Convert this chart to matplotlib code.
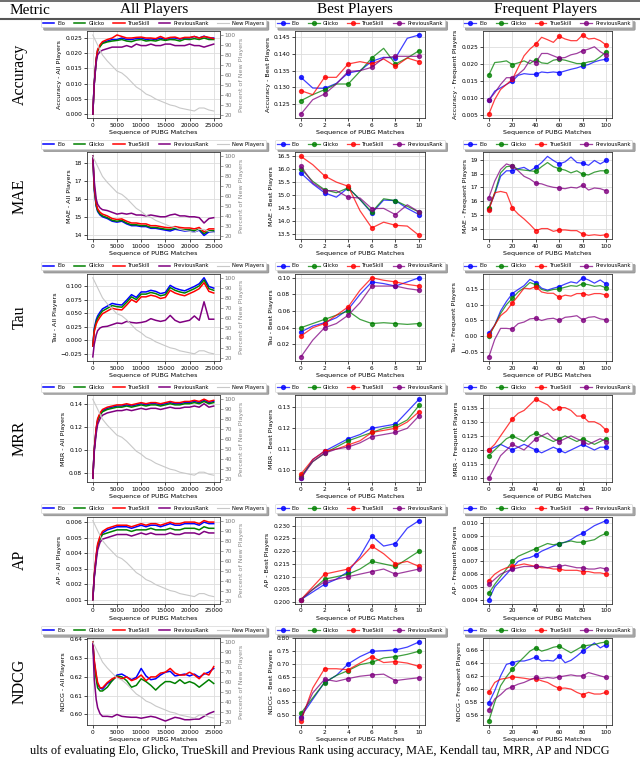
import numpy as np
import matplotlib.pyplot as plt
from matplotlib.lines import Line2D

plt.rcParams['font.family'] = ['DejaVu Sans']

# x positions
all_x = [0, 300, 700, 1000, 1500, 2000, 3000, 4000, 5000, 6000, 7000, 8000, 9000, 10000, 11000,
         12000, 13000, 14000, 15000, 16000, 17000, 18000, 19000, 20000, 21000, 22000, 23000, 24000, 25000]
best_x = [0, 1, 2, 3, 4, 5, 6, 7, 8, 9, 10]
freq_x = [0, 5, 10, 15, 20, 25, 30, 35, 40, 45, 50, 55, 60, 65, 70, 75, 80, 85, 90, 95, 100]

new_players = [100, 97, 93, 90, 85, 80, 74, 69, 64, 62, 58, 53, 48, 45, 41, 39, 36, 34, 32, 30, 29,
               27, 26, 25, 24, 27, 27, 25, 24]

# ---- Accuracy ----
acc_all_elo = [0, 0.010, 0.018, 0.021, 0.0225, 0.0235, 0.024, 0.0245, 0.0245, 0.025, 0.0245, 0.0245, 0.0248,
               0.025, 0.0245, 0.0247, 0.0245, 0.025, 0.0245, 0.025, 0.025, 0.0246, 0.025, 0.025, 0.0255,
               0.025, 0.0256, 0.025, 0.025]
acc_all_glicko = [0, 0.010, 0.0178, 0.0207, 0.0222, 0.0232, 0.0237, 0.024, 0.0242, 0.0245, 0.024, 0.0238,
                  0.0243, 0.0245, 0.024, 0.0242, 0.024, 0.0245, 0.0242, 0.0245, 0.0244, 0.024, 0.0246,
                  0.0245, 0.0248, 0.0245, 0.025, 0.0245, 0.0245]
acc_all_trueskill = [0, 0.010, 0.0182, 0.0212, 0.0228, 0.0238, 0.0245, 0.025, 0.026, 0.0255, 0.025, 0.025,
                     0.0252, 0.0253, 0.025, 0.025, 0.0248, 0.0255, 0.0248, 0.0252, 0.0253, 0.0248, 0.0252,
                     0.0252, 0.0255, 0.025, 0.0255, 0.0252, 0.0248]
acc_all_prev = [0, 0.010, 0.017, 0.0195, 0.0205, 0.021, 0.0215, 0.022, 0.022, 0.022, 0.0225, 0.022, 0.023,
                0.0225, 0.0225, 0.023, 0.0225, 0.0225, 0.023, 0.023, 0.0225, 0.0225, 0.0225, 0.023, 0.0225,
                0.0225, 0.022, 0.0225, 0.023]
acc_best_elo = [0.133, 0.1298, 0.1297, 0.1312, 0.1343, 0.135, 0.1378, 0.139, 0.1388, 0.1447, 0.1457]
acc_best_glicko = [0.126, 0.1278, 0.1293, 0.131, 0.131, 0.1348, 0.1388, 0.1417, 0.137, 0.1388, 0.141]
acc_best_trueskill = [0.129, 0.1278, 0.133, 0.133, 0.137, 0.1377, 0.137, 0.1385, 0.1363, 0.1388, 0.1377]
acc_best_prev = [0.122, 0.1263, 0.128, 0.131, 0.1348, 0.135, 0.136, 0.1388, 0.1393, 0.1393, 0.1393]
acc_freq_elo = [0.0093, 0.012, 0.013, 0.014, 0.015, 0.0167, 0.0172, 0.017, 0.017, 0.0177, 0.0175, 0.0177,
                0.0175, 0.018, 0.0185, 0.0189, 0.0195, 0.0199, 0.0207, 0.0212, 0.0215]
acc_freq_glicko = [0.0168, 0.0205, 0.0207, 0.021, 0.0199, 0.0204, 0.021, 0.0202, 0.0214, 0.0204, 0.0202,
                   0.0212, 0.0215, 0.0212, 0.0207, 0.0202, 0.0202, 0.0207, 0.021, 0.0222, 0.0237]
acc_freq_trueskill = [0.0052, 0.0095, 0.0125, 0.014, 0.0155, 0.019, 0.0225, 0.0245, 0.026, 0.028, 0.0273,
                      0.0265, 0.0283, 0.0275, 0.027, 0.027, 0.0287, 0.0275, 0.0277, 0.027, 0.0257]
acc_freq_prev = [0.0093, 0.0115, 0.014, 0.016, 0.016, 0.017, 0.0185, 0.0212, 0.0205, 0.0232, 0.0232,
                 0.0225, 0.0218, 0.022, 0.0228, 0.0232, 0.024, 0.0245, 0.0252, 0.0237, 0.0227]

# ---- MAE ----
mae_all_elo = [18.4, 16.5, 15.6, 15.3, 15.1, 15.0, 14.9, 14.75, 14.7, 14.75, 14.6, 14.5, 14.5, 14.45, 14.45,
               14.35, 14.35, 14.3, 14.25, 14.2, 14.3, 14.25, 14.2, 14.2, 14.15, 14.25, 13.95, 14.15, 14.15]
mae_all_glicko = [18.4, 16.6, 15.65, 15.35, 15.15, 15.05, 14.95, 14.8, 14.75, 14.8, 14.65, 14.55, 14.55,
                  14.5, 14.5, 14.4, 14.4, 14.35, 14.3, 14.28, 14.35, 14.3, 14.27, 14.27, 14.22, 14.3,
                  14.05, 14.22, 14.22]
mae_all_trueskill = [18.4, 16.7, 15.75, 15.45, 15.25, 15.15, 15.05, 14.9, 14.85, 14.88, 14.75, 14.65,
                     14.65, 14.6, 14.6, 14.5, 14.5, 14.45, 14.4, 14.38, 14.45, 14.4, 14.37, 14.37, 14.32,
                     14.4, 14.15, 14.32, 14.32]
mae_all_prev = [18.4, 17.0, 16.0, 15.7, 15.5, 15.4, 15.35, 15.25, 15.15, 15.2, 15.15, 15.2, 15.1, 15.1,
                15.05, 15.1, 15.05, 15.0, 15.0, 15.1, 15.15, 15.05, 15.05, 15.0, 15.0, 14.95, 14.65, 14.9,
                14.95]
mae_best_elo = [15.86, 15.44, 15.1, 14.93, 15.29, 14.84, 14.32, 14.82, 14.8, 14.5, 14.26]
mae_best_glicko = [16.03, 15.54, 15.22, 15.1, 15.29, 14.84, 14.36, 14.87, 14.8, 14.58, 14.36]
mae_best_trueskill = [16.5, 16.18, 15.75, 15.51, 15.35, 14.41, 13.75, 13.97, 13.85, 13.82, 13.46]
mae_best_prev = [16.12, 15.48, 15.18, 15.18, 14.93, 14.9, 14.49, 14.5, 14.26, 14.64, 14.36]
mae_freq_elo = [15.45, 16.5, 17.8, 18.2, 18.2, 18.35, 18.45, 18.2, 18.45, 18.8, 19.25, 18.95, 18.7, 18.85,
                19.2, 18.8, 18.75, 18.6, 18.95, 18.7, 18.95]
mae_freq_glicko = [15.5, 16.6, 18.05, 18.5, 18.55, 18.3, 18.25, 18.2, 18.15, 18.5, 18.8, 18.5, 18.35,
                   18.25, 18.05, 18.2, 17.95, 17.9, 18.1, 18.2, 18.2]
mae_freq_trueskill = [15.35, 16.6, 16.7, 16.6, 15.5, 15.05, 14.7, 14.3, 13.85, 14.0, 14.0, 13.8, 13.9,
                      13.9, 13.85, 13.85, 13.6, 13.5, 13.55, 13.5, 13.55]
mae_freq_prev = [16.25, 17.45, 18.3, 18.7, 18.55, 18.2, 17.8, 17.6, 17.3, 17.25, 17.1, 17.0, 16.95, 16.9,
                 17.0, 16.95, 17.15, 16.8, 16.95, 16.9, 16.75]

# ---- Tau ----
tau_all_elo = [-0.01, 0.022, 0.038, 0.045, 0.052, 0.058, 0.063, 0.068, 0.066, 0.065, 0.074, 0.084, 0.079,
               0.089, 0.089, 0.092, 0.09, 0.086, 0.088, 0.101, 0.096, 0.093, 0.091, 0.095, 0.099, 0.104,
               0.115, 0.099, 0.096]
tau_all_glicko = [-0.01, 0.019, 0.034, 0.041, 0.048, 0.054, 0.059, 0.064, 0.062, 0.061, 0.07, 0.08, 0.075,
                  0.085, 0.085, 0.088, 0.086, 0.082, 0.084, 0.097, 0.092, 0.089, 0.087, 0.091, 0.095, 0.1,
                  0.111, 0.095, 0.092]
tau_all_trueskill = [-0.01, 0.016, 0.03, 0.036, 0.043, 0.049, 0.054, 0.059, 0.057, 0.056, 0.065, 0.075,
                     0.07, 0.08, 0.08, 0.083, 0.081, 0.077, 0.079, 0.092, 0.087, 0.084, 0.082, 0.086, 0.09,
                     0.095, 0.106, 0.09, 0.087]
tau_all_prev = [-0.03, -0.007, 0.01, 0.018, 0.023, 0.025, 0.026, 0.029, 0.032, 0.031, 0.035, 0.033, 0.032,
                0.033, 0.035, 0.04, 0.037, 0.035, 0.037, 0.046, 0.037, 0.033, 0.035, 0.037, 0.045, 0.037,
                0.071, 0.039, 0.039]
tau_best_elo = [0.035, 0.042, 0.046, 0.052, 0.062, 0.08, 0.095, 0.093, 0.09, 0.095, 0.1]
tau_best_glicko = [0.04, 0.045, 0.05, 0.055, 0.06, 0.05, 0.045, 0.046, 0.045, 0.044, 0.045]
tau_best_trueskill = [0.03, 0.04, 0.045, 0.055, 0.065, 0.085, 0.1, 0.097, 0.095, 0.092, 0.09]
tau_best_prev = [0.005, 0.025, 0.04, 0.045, 0.055, 0.07, 0.09, 0.09, 0.09, 0.087, 0.085]
tau_freq_elo = [0.01, 0.035, 0.08, 0.11, 0.135, 0.148, 0.16, 0.18, 0.17, 0.152, 0.146, 0.152, 0.157,
                0.165, 0.172, 0.168, 0.185, 0.178, 0.168, 0.178, 0.165]
tau_freq_glicko = [0.0, 0.035, 0.072, 0.1, 0.12, 0.14, 0.153, 0.17, 0.163, 0.148, 0.143, 0.148, 0.15,
                   0.155, 0.16, 0.158, 0.166, 0.163, 0.158, 0.16, 0.153]
tau_freq_trueskill = [0.003, 0.035, 0.065, 0.08, 0.105, 0.128, 0.152, 0.15, 0.157, 0.14, 0.136, 0.136,
                      0.123, 0.13, 0.127, 0.135, 0.135, 0.13, 0.135, 0.135, 0.13]
tau_freq_prev = [-0.065, -0.01, 0.025, 0.025, 0.023, 0.04, 0.045, 0.055, 0.057, 0.05, 0.055, 0.057, 0.05,
                 0.06, 0.062, 0.065, 0.052, 0.06, 0.062, 0.055, 0.052]

# ---- MRR ----
mrr_all_elo = [0.075, 0.1, 0.118, 0.126, 0.131, 0.134, 0.136, 0.137, 0.138, 0.138, 0.139, 0.138, 0.139,
               0.14, 0.139, 0.14, 0.14, 0.139, 0.14, 0.141, 0.14, 0.14, 0.141, 0.141, 0.142, 0.141, 0.143,
               0.141, 0.142]
mrr_all_glicko = [0.075, 0.1, 0.117, 0.125, 0.13, 0.133, 0.135, 0.136, 0.137, 0.137, 0.138, 0.137, 0.138,
                  0.139, 0.138, 0.139, 0.139, 0.138, 0.139, 0.14, 0.139, 0.139, 0.14, 0.14, 0.141, 0.14,
                  0.142, 0.14, 0.141]
mrr_all_trueskill = [0.075, 0.1, 0.119, 0.127, 0.132, 0.135, 0.137, 0.138, 0.139, 0.139, 0.14, 0.139,
                     0.14, 0.141, 0.14, 0.141, 0.141, 0.14, 0.141, 0.142, 0.141, 0.141, 0.142, 0.142, 0.143,
                     0.142, 0.144, 0.142, 0.143]
mrr_all_prev = [0.075, 0.098, 0.114, 0.122, 0.127, 0.13, 0.132, 0.133, 0.134, 0.134, 0.135, 0.134, 0.135,
                0.136, 0.135, 0.136, 0.136, 0.135, 0.136, 0.137, 0.136, 0.136, 0.137, 0.137, 0.138, 0.137,
                0.14, 0.137, 0.138]
mrr_best_elo = [0.096, 0.105, 0.109, 0.112, 0.115, 0.117, 0.12, 0.121, 0.122, 0.128, 0.134]
mrr_best_glicko = [0.097, 0.104, 0.108, 0.111, 0.114, 0.116, 0.118, 0.12, 0.121, 0.124, 0.131]
mrr_best_trueskill = [0.098, 0.105, 0.109, 0.11, 0.112, 0.114, 0.118, 0.119, 0.12, 0.123, 0.128]
mrr_best_prev = [0.096, 0.104, 0.108, 0.11, 0.111, 0.113, 0.116, 0.117, 0.118, 0.12, 0.126]
mrr_freq_elo = [0.12, 0.121, 0.122, 0.121, 0.12, 0.121, 0.122, 0.121, 0.12, 0.119, 0.12, 0.121, 0.12,
                0.119, 0.12, 0.121, 0.122, 0.121, 0.12, 0.121, 0.121]
mrr_freq_glicko = [0.118, 0.12, 0.122, 0.124, 0.125, 0.124, 0.123, 0.125, 0.126, 0.125, 0.124, 0.123,
                   0.124, 0.125, 0.124, 0.123, 0.124, 0.123, 0.122, 0.123, 0.124]
mrr_freq_trueskill = [0.12, 0.122, 0.125, 0.128, 0.131, 0.133, 0.134, 0.136, 0.138, 0.137, 0.136, 0.134,
                      0.135, 0.135, 0.134, 0.132, 0.132, 0.13, 0.13, 0.129, 0.127]
mrr_freq_prev = [0.11, 0.114, 0.118, 0.12, 0.122, 0.121, 0.12, 0.122, 0.124, 0.125, 0.126, 0.124, 0.123,
                 0.124, 0.125, 0.124, 0.123, 0.122, 0.123, 0.124, 0.123]

# ---- AP ----
ap_all_elo = [0.001, 0.0025, 0.0038, 0.0045, 0.005, 0.0053, 0.0055, 0.0056, 0.0057, 0.0057, 0.0057,
              0.0056, 0.0057, 0.0058, 0.0057, 0.0058, 0.0058, 0.0057, 0.0058, 0.0059, 0.0058, 0.0058,
              0.0059, 0.0059, 0.0059, 0.0058, 0.006, 0.0059, 0.0059]
ap_all_glicko = [0.001, 0.0025, 0.0037, 0.0044, 0.0049, 0.0052, 0.0053, 0.0054, 0.0055, 0.0055, 0.0055,
                 0.0054, 0.0055, 0.0055, 0.0055, 0.0056, 0.0055, 0.0055, 0.0055, 0.0056, 0.0055, 0.0055,
                 0.0056, 0.0056, 0.0056, 0.0055, 0.0057, 0.0056, 0.0056]
ap_all_trueskill = [0.001, 0.0026, 0.0039, 0.0046, 0.0051, 0.0054, 0.0056, 0.0057, 0.0058, 0.0058, 0.0058,
                    0.0057, 0.0058, 0.0059, 0.0058, 0.0059, 0.0059, 0.0058, 0.0059, 0.006, 0.0059, 0.0059,
                    0.006, 0.006, 0.006, 0.0059, 0.0061, 0.006, 0.006]
ap_all_prev = [0.001, 0.0024, 0.0035, 0.0042, 0.0047, 0.0049, 0.005, 0.0051, 0.0052, 0.0052, 0.0052,
               0.0051, 0.0052, 0.0053, 0.0052, 0.0053, 0.0052, 0.0052, 0.0052, 0.0053, 0.0052, 0.0052,
               0.0053, 0.0053, 0.0053, 0.0052, 0.0054, 0.0053, 0.0053]
ap_best_elo = [0.201, 0.204, 0.207, 0.209, 0.212, 0.218, 0.226, 0.222, 0.223, 0.229, 0.232]
ap_best_glicko = [0.201, 0.205, 0.209, 0.21, 0.211, 0.213, 0.216, 0.215, 0.214, 0.217, 0.22]
ap_best_trueskill = [0.201, 0.206, 0.211, 0.212, 0.213, 0.217, 0.222, 0.219, 0.215, 0.216, 0.214]
ap_best_prev = [0.201, 0.205, 0.208, 0.209, 0.21, 0.211, 0.212, 0.213, 0.211, 0.212, 0.213]
ap_freq_elo = [0.004, 0.005, 0.0055, 0.006, 0.0065, 0.007, 0.0072, 0.0073, 0.0075, 0.0078, 0.008, 0.0082,
               0.0084, 0.0085, 0.0087, 0.009, 0.0092, 0.0095, 0.0098, 0.01, 0.0102]
ap_freq_glicko = [0.0045, 0.0052, 0.0058, 0.0064, 0.007, 0.0074, 0.0076, 0.0078, 0.008, 0.0082, 0.0084,
                  0.0083, 0.0084, 0.0085, 0.0086, 0.0085, 0.0085, 0.0086, 0.0087, 0.009, 0.0092]
ap_freq_trueskill = [0.0055, 0.006, 0.0063, 0.0065, 0.0066, 0.0067, 0.0068, 0.0067, 0.0066, 0.0065,
                     0.0065, 0.0064, 0.0064, 0.0063, 0.0063, 0.0063, 0.0062, 0.0062, 0.0061, 0.0061, 0.006]
ap_freq_prev = [0.0052, 0.0056, 0.006, 0.0062, 0.0064, 0.0065, 0.0066, 0.0066, 0.0066, 0.0066, 0.0065,
                0.0066, 0.0066, 0.0067, 0.0066, 0.0065, 0.0065, 0.0064, 0.0064, 0.0065, 0.0064]

# ---- NDCG ----
ndcg_all_elo = [0.6386, 0.628, 0.6205, 0.616, 0.614, 0.6135, 0.6165, 0.618, 0.621, 0.6215, 0.62, 0.6185,
                0.6198, 0.6245, 0.6205, 0.6185, 0.619, 0.621, 0.6225, 0.623, 0.6205, 0.621, 0.6215,
                0.6205, 0.6215, 0.6198, 0.6215, 0.6225, 0.6245]
ndcg_all_glicko = [0.6386, 0.627, 0.619, 0.6142, 0.6125, 0.6125, 0.6145, 0.618, 0.6205, 0.62, 0.618,
                   0.6145, 0.6155, 0.619, 0.6175, 0.6155, 0.613, 0.6155, 0.6175, 0.6175, 0.6165, 0.6185,
                   0.6165, 0.6175, 0.6165, 0.6145, 0.6165, 0.6185, 0.6165]
ndcg_all_trueskill = [0.6386, 0.629, 0.6215, 0.617, 0.6142, 0.6142, 0.617, 0.619, 0.62, 0.619, 0.62,
                      0.618, 0.619, 0.621, 0.618, 0.62, 0.62, 0.622, 0.6225, 0.6245, 0.622, 0.621, 0.621,
                      0.6225, 0.621, 0.619, 0.622, 0.621, 0.6255]
ndcg_all_prev = [0.6377, 0.6188, 0.608, 0.6036, 0.6004, 0.599, 0.599, 0.5987, 0.6, 0.599, 0.5987, 0.5985,
                 0.5985, 0.598, 0.5985, 0.599, 0.5985, 0.5975, 0.5965, 0.5975, 0.5985, 0.598, 0.5972,
                 0.5972, 0.5975, 0.5975, 0.599, 0.6005, 0.6015]
ndcg_best_elo = [0.495, 0.562, 0.628, 0.655, 0.70, 0.728, 0.749, 0.751, 0.754, 0.765, 0.785]
ndcg_best_glicko = [0.508, 0.568, 0.627, 0.655, 0.674, 0.697, 0.706, 0.723, 0.728, 0.737, 0.749]
ndcg_best_trueskill = [0.478, 0.606, 0.681, 0.681, 0.677, 0.703, 0.728, 0.705, 0.709, 0.703, 0.69]
ndcg_best_prev = [0.49, 0.587, 0.64, 0.632, 0.643, 0.652, 0.657, 0.66, 0.635, 0.641, 0.646]
ndcg_freq_elo = [0.578, 0.5967, 0.6195, 0.6372, 0.6397, 0.6423, 0.6423, 0.6448, 0.6484, 0.6423, 0.6433,
                 0.6423, 0.6499, 0.6397, 0.6433, 0.6499, 0.6575, 0.6635, 0.6701, 0.6625, 0.6676]
ndcg_freq_glicko = [0.5501, 0.579, 0.6043, 0.618, 0.6296, 0.6397, 0.6484, 0.6575, 0.6625, 0.6575, 0.66,
                    0.6635, 0.6651, 0.66, 0.6549, 0.66, 0.6651, 0.6666, 0.6676, 0.6701, 0.6716]
ndcg_freq_trueskill = [0.5942, 0.6094, 0.6144, 0.6159, 0.618, 0.617, 0.6159, 0.6144, 0.6154, 0.6119,
                       0.6094, 0.6043, 0.6003, 0.6008, 0.5992, 0.5942, 0.5906, 0.5942, 0.5916, 0.5916,
                       0.5942]
ndcg_freq_prev = [0.5673, 0.584, 0.5906, 0.5992, 0.6028, 0.6068, 0.6094, 0.6134, 0.617, 0.6154, 0.617,
                  0.6159, 0.618, 0.6195, 0.621, 0.6195, 0.6195, 0.6246, 0.622, 0.6195, 0.617]

metrics = ['Accuracy', 'MAE', 'Tau', 'MRR', 'AP', 'NDCG']
methods = ['Elo', 'Glicko', 'TrueSkill', 'PreviousRank']
colors = ['blue', 'green', 'red', 'purple']

all_data = [
    [acc_all_elo, acc_all_glicko, acc_all_trueskill, acc_all_prev],
    [mae_all_elo, mae_all_glicko, mae_all_trueskill, mae_all_prev],
    [tau_all_elo, tau_all_glicko, tau_all_trueskill, tau_all_prev],
    [mrr_all_elo, mrr_all_glicko, mrr_all_trueskill, mrr_all_prev],
    [ap_all_elo, ap_all_glicko, ap_all_trueskill, ap_all_prev],
    [ndcg_all_elo, ndcg_all_glicko, ndcg_all_trueskill, ndcg_all_prev],
]
best_data = [
    [acc_best_elo, acc_best_glicko, acc_best_trueskill, acc_best_prev],
    [mae_best_elo, mae_best_glicko, mae_best_trueskill, mae_best_prev],
    [tau_best_elo, tau_best_glicko, tau_best_trueskill, tau_best_prev],
    [mrr_best_elo, mrr_best_glicko, mrr_best_trueskill, mrr_best_prev],
    [ap_best_elo, ap_best_glicko, ap_best_trueskill, ap_best_prev],
    [ndcg_best_elo, ndcg_best_glicko, ndcg_best_trueskill, ndcg_best_prev],
]
freq_data = [
    [acc_freq_elo, acc_freq_glicko, acc_freq_trueskill, acc_freq_prev],
    [mae_freq_elo, mae_freq_glicko, mae_freq_trueskill, mae_freq_prev],
    [tau_freq_elo, tau_freq_glicko, tau_freq_trueskill, tau_freq_prev],
    [mrr_freq_elo, mrr_freq_glicko, mrr_freq_trueskill, mrr_freq_prev],
    [ap_freq_elo, ap_freq_glicko, ap_freq_trueskill, ap_freq_prev],
    [ndcg_freq_elo, ndcg_freq_glicko, ndcg_freq_trueskill, ndcg_freq_prev],
]

W, H = 640, 759
fig = plt.figure(figsize=(W / 100, H / 100), dpi=100)

TS = 4.2  # tick label size
LS = 4.6  # axis label size


def px_axes(x0, y0, w, h):
    return fig.add_axes([x0 / W, 1 - (y0 + h) / H, w / W, h / H])


def style(ax):
    ax.set_facecolor('white')
    ax.grid(True, color='#dddddd', linewidth=0.6)
    ax.set_axisbelow(True)
    for s in ax.spines.values():
        s.set_color('#333333')
        s.set_linewidth(0.6)
    ax.tick_params(labelsize=TS, length=2, width=0.5, pad=1.5)


def legend(ax, handles, ncol):
    lg = ax.legend(handles=handles, loc='lower center', bbox_to_anchor=(0.5, 1.01), ncol=ncol,
                   fontsize=3.8, frameon=True, fancybox=True, shadow=True, handlelength=2.2,
                   columnspacing=1.6, borderpad=0.35, handletextpad=0.6)
    lg.get_frame().set_linewidth(0.4)


row_top = 31
row_pitch = 121.4
ax_h = 87

# headers
hdr = dict(family='Liberation Serif', fontsize=11, ha='center', va='center')
fig.text(30 / W, 1 - 10 / H, 'Metric', **hdr)
fig.text(154 / W, 1 - 10 / H, 'All Players', **hdr)
fig.text(355 / W, 1 - 10 / H, 'Best Players', **hdr)
fig.text(545 / W, 1 - 10 / H, 'Frequent Players', **hdr)
fig.add_artist(Line2D([0, 1], [1 - 0.5 / H, 1 - 0.5 / H], color='#555555', linewidth=1.2))
fig.add_artist(Line2D([0, 1], [1 - 19 / H, 1 - 19 / H], color='#555555', linewidth=1.5))

for i, m in enumerate(metrics):
    top = row_top + row_pitch * i
    fig.text(20 / W, 1 - (top + ax_h / 2) / H, m, family='Liberation Serif', fontsize=11.5,
             rotation=90, ha='center', va='center')

    # All players
    ax = px_axes(87, top, 133, ax_h)
    style(ax)
    handles = []
    for k in range(4):
        h, = ax.plot(all_x, all_data[i][k], color=colors[k], linewidth=1.1, label=methods[k])
        handles.append(h)
    ax.set_xlim(-1200, 26300)
    ax.set_xticks([0, 5000, 10000, 15000, 20000, 25000])
    ax.set_ylabel(m + ' - All Players', fontsize=LS, labelpad=2)
    ax.set_xlabel('Sequence of PUBG Matches', fontsize=LS, labelpad=1.5)
    ax2 = ax.twinx()
    g, = ax2.plot(all_x, new_players, color='#c8c8c8', linewidth=0.8, label='New Players')
    ax2.set_ylim(17, 104)
    ax2.set_yticks(range(20, 101, 10))
    ax2.tick_params(labelsize=TS, length=2, width=0.5, pad=1.5, colors='#777777')
    ax2.set_ylabel('Percent of New Players', fontsize=LS, color='#888888', labelpad=2)
    for s in ax2.spines.values():
        s.set_visible(False)
    handles.append(g)
    legend(ax, handles, 5)

    # Best players
    ax = px_axes(295, top, 130, ax_h)
    style(ax)
    handles = []
    for k in range(4):
        h, = ax.plot(best_x, best_data[i][k], color=colors[k], linewidth=0.9, alpha=0.75,
                     marker='o', markersize=2.8, markevery=2, label=methods[k])
        handles.append(h)
    ax.set_xlim(-0.5, 10.5)
    ax.set_xticks(range(0, 11, 2))
    ax.set_ylabel(m + ' - Best Players', fontsize=LS, labelpad=2)
    ax.set_xlabel('Sequence of PUBG Matches', fontsize=LS, labelpad=1.5)
    legend(ax, handles, 4)

    # Frequent players
    ax = px_axes(483, top, 129, ax_h)
    style(ax)
    handles = []
    for k in range(4):
        h, = ax.plot(freq_x, freq_data[i][k], color=colors[k], linewidth=0.9, alpha=0.75,
                     marker='o', markersize=2.8, markevery=4, label=methods[k])
        handles.append(h)
    ax.set_xlim(-5, 105)
    ax.set_xticks(range(0, 101, 20))
    ax.set_ylabel(m + ' - Frequent Players', fontsize=LS, labelpad=2)
    ax.set_xlabel('Sequence of PUBG Matches', fontsize=LS, labelpad=1.5)
    legend(ax, handles, 4)

fig.text(0.5, 1 - 751 / H, 'ults of evaluating Elo, Glicko, TrueSkill and Previous Rank using accuracy, MAE, Kendall tau, MRR, AP and NDCG',
         family='Liberation Serif', fontsize=8.8, ha='center', va='center')

fig.savefig('out.png', dpi=100)
